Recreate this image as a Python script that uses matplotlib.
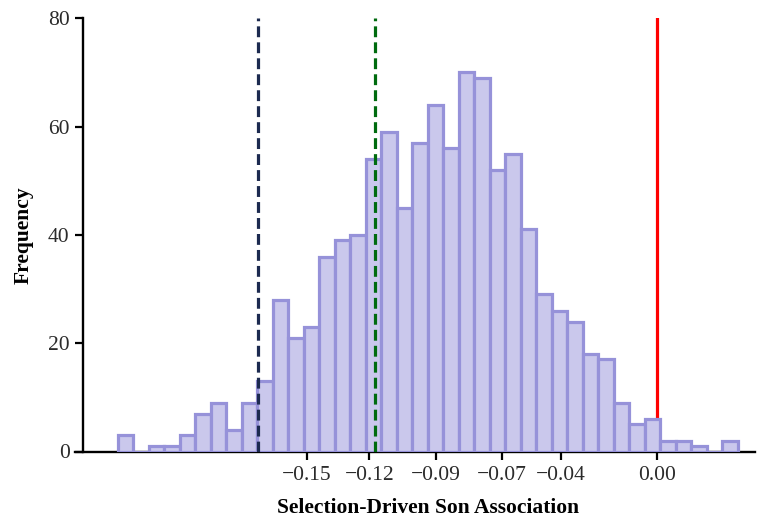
import numpy as np
import matplotlib
matplotlib.use("Agg")
import matplotlib.pyplot as plt

# ---- data ----
counts = [3, 0, 1, 1, 3, 7, 9, 4, 9, 13,
          28, 21, 23, 36, 39, 40, 54, 59, 45, 57,
          64, 56, 70, 69, 52, 55, 41, 29, 26, 24,
          18, 17, 9, 5, 6, 2, 2, 1, 0, 2]
bin_start = -0.2310
bin_width = 0.006647
tick_values = [-0.1501, -0.1232, -0.0947, -0.0664, -0.0410, 0.0]
tick_labels = ["\u22120.15", "\u22120.12", "\u22120.09", "\u22120.07", "\u22120.04", "0.00"]
navy_line = -0.1708
green_line = -0.1207
red_line = 0.0

plt.rcParams['font.family'] = ['Liberation Serif', 'DejaVu Serif']

fig = plt.figure(figsize=(7.63, 5.17), dpi=100)
ax = fig.add_axes([75 / 763, 65.5 / 517, (755 - 75) / 763, (451.5 - 18.3) / 517])

edges = bin_start + bin_width * np.arange(len(counts) + 1)
ax.bar(edges[:-1], counts, width=bin_width, align='edge',
       color='#cac8ec', edgecolor='#9692d9', linewidth=2.3, zorder=3)

ax.axvline(red_line, color='#ff0000', linewidth=2.3, zorder=2)
ax.axvline(navy_line, color='#1c2a50', linewidth=2.3, linestyle=(0, (3.4, 1.6)), zorder=4)
ax.axvline(green_line, color='#006b0f', linewidth=2.3, linestyle=(0, (3.4, 1.6)), zorder=4)

ax.set_xlim(-0.2494, 0.0422)
ax.set_ylim(0, 80)

for s in ['top', 'right']:
    ax.spines[s].set_visible(False)
ax.spines['left'].set_position(('data', -0.2461))
ax.spines['left'].set_linewidth(1.7)
ax.spines['bottom'].set_linewidth(1.7)

ax.set_xticks(tick_values)
ax.set_xticklabels(tick_labels)
ax.set_yticks([0, 20, 40, 60, 80])
ax.tick_params(axis='both', which='major', length=5.5, width=1.6,
               labelsize=15.5, labelcolor='#2b2b2b', direction='out')
ax.tick_params(axis='x', pad=5)
ax.tick_params(axis='y', pad=4)

ax.set_xlabel('Selection-Driven Son Association', fontsize=15.5, fontweight='bold',
              labelpad=9, x=0.519)
ax.set_ylabel('Frequency', fontsize=15.5, fontweight='bold', labelpad=10)

fig.savefig('out.png', dpi=100)
